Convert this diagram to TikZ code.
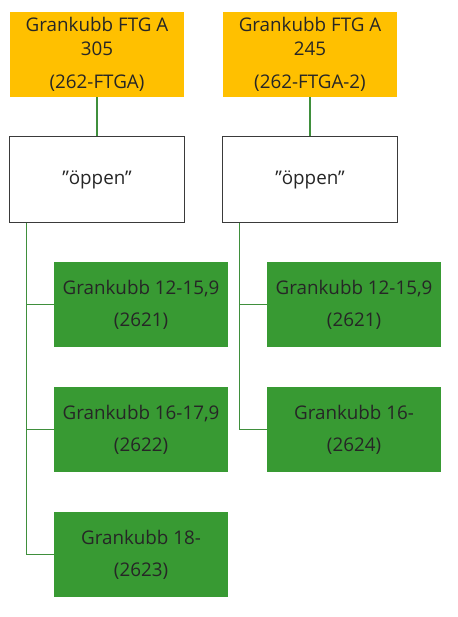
\documentclass[tikz,border=0pt]{standalone}
\usepackage{fontspec}
\setmainfont{Open Sans}
\usepackage{xcolor}
\usetikzlibrary{positioning}
\definecolor{headyellow}{HTML}{FFC000}
\definecolor{leafgreen}{HTML}{389A33}
\definecolor{branchgreen}{HTML}{3F8F3C}
\definecolor{framegray}{HTML}{3A3A3A}
\definecolor{textgray}{HTML}{262626}

\begin{document}
\begin{tikzpicture}[x=1pt,y=-1pt,
  box/.style={minimum width=174pt,minimum height=85pt,inner sep=0pt,align=center,
    text=textgray,font=\fontsize{18.8}{24}\selectfont},
  headbox/.style={box,fill=headyellow},
  openbox/.style={box,draw=framegray,line width=1.6pt,minimum width=175pt,minimum height=86pt,fill=white},
  leafbox/.style={box,fill=leafgreen,text=black!85},
  branch/.style={draw=branchgreen,line width=1.5pt}]
  \useasboundingbox (0,0) rectangle (457,617);
  % top level
  \node[headbox] (headA) at (97,54.5) {Grankubb FTG A\\305\\[9pt](262-FTGA)};
  \node[headbox] (headB) at (310,54.5) {Grankubb FTG A\\245\\[9pt](262-FTGA-2)};
  \node[openbox] (openA) at (97,179.5) {”öppen”};
  \node[openbox] (openB) at (310,179.5) {”öppen”};
  % leaves
  \node[leafbox] (leafA1) at (141,304.5) {Grankubb 12-15,9\\[8pt](2621)};
  \node[leafbox] (leafA2) at (141,429.5) {Grankubb 16-17,9\\[8pt](2622)};
  \node[leafbox] (leafA3) at (141,554.5) {Grankubb 18-\\[8pt](2623)};
  \node[leafbox] (leafB1) at (354,304.5) {Grankubb 12-15,9\\[8pt](2621)};
  \node[leafbox] (leafB2) at (354,429.5) {Grankubb 16-\\[8pt](2624)};
  % connectors
  \draw[branch] (headA) -- (openA);
  \draw[branch] (headB) -- (openB);
  \foreach \leaf in {leafA1,leafA2,leafA3} { \draw[branch] (openA.south west) ++(18,0) |- (\leaf.west); }
  \foreach \leaf in {leafB1,leafB2} { \draw[branch] (openB.south west) ++(18,0) |- (\leaf.west); }
\end{tikzpicture}
\end{document}
